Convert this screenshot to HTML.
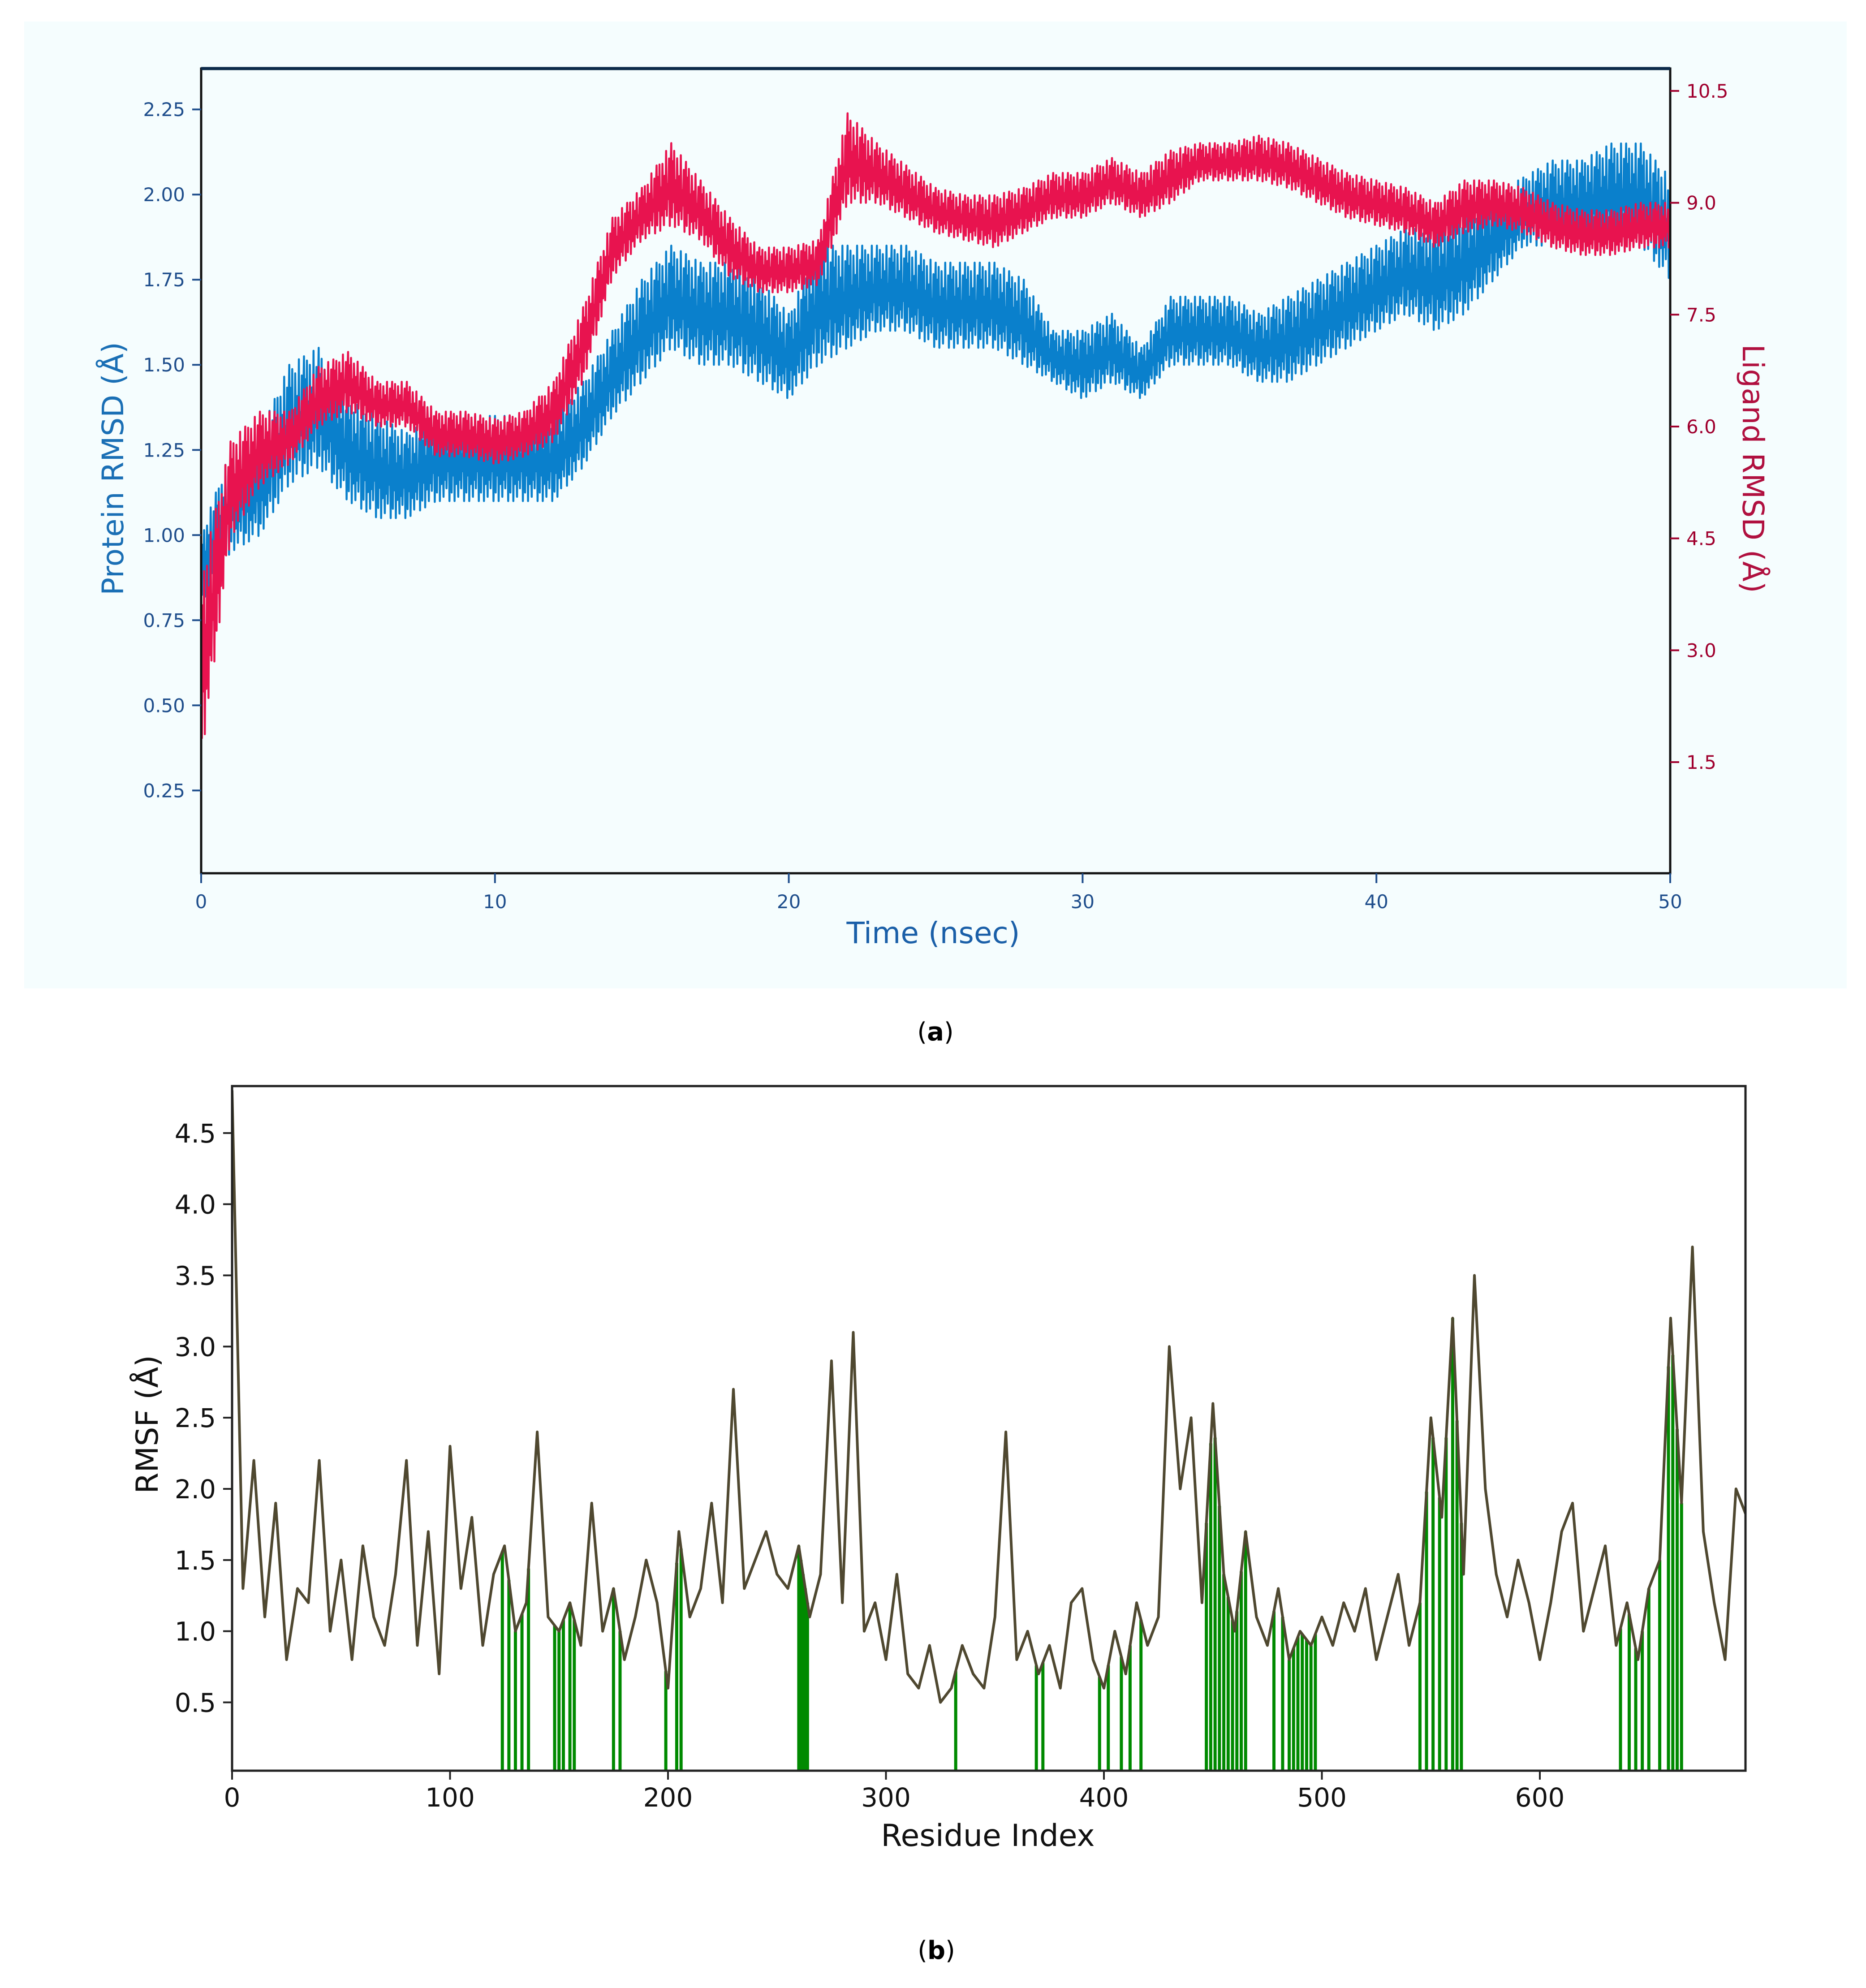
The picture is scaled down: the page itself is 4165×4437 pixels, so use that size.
<!DOCTYPE html>
<html><head><meta charset="utf-8">
<style>
html,body{margin:0;padding:0;background:#fff;}
svg{display:block;}
text{font-family:"DejaVu Sans","Liberation Sans",sans-serif;}
</style></head>
<body>
<svg id="fig" xmlns="http://www.w3.org/2000/svg" width="4165" height="4437" viewBox="0 0 4165 4437">
  <rect x="54" y="48" width="4068" height="2158" fill="#f5fdfe"/>
  <g id="pa"></g>
  <g id="pb"></g>
  <text x="2088" y="2322" font-size="56" text-anchor="middle" font-family="Liberation Serif, serif">(<tspan font-weight="bold">a</tspan>)</text>
  <text x="2090" y="4372" font-size="56" text-anchor="middle" font-family="Liberation Serif, serif">(<tspan font-weight="bold">b</tspan>)</text>
</svg>
<script>
// ---------- Panel (a) data ----------
const timeNs = [0,1,2,3,4,5,6,7,8,9,10,11,12,13,14,15,16,17,18,19,20,21,22,23,24,25,26,27,28,29,30,31,32,33,34,35,36,37,38,39,40,41,42,43,44,45,46,47,48,49,50];
const proteinLo = [0.8,0.95,1.0,1.15,1.2,1.1,1.05,1.05,1.1,1.1,1.1,1.1,1.1,1.2,1.35,1.45,1.55,1.5,1.5,1.45,1.4,1.5,1.55,1.6,1.6,1.55,1.55,1.55,1.5,1.45,1.4,1.45,1.4,1.5,1.5,1.5,1.45,1.45,1.5,1.55,1.6,1.65,1.6,1.65,1.75,1.85,1.85,1.85,1.85,1.85,1.75];
const proteinHi = [1.0,1.25,1.3,1.5,1.55,1.4,1.35,1.3,1.35,1.35,1.35,1.35,1.35,1.45,1.6,1.75,1.85,1.8,1.8,1.75,1.65,1.85,1.85,1.85,1.85,1.8,1.8,1.8,1.75,1.6,1.6,1.65,1.55,1.7,1.7,1.7,1.65,1.7,1.75,1.8,1.85,1.9,1.9,1.95,2.0,2.05,2.1,2.1,2.15,2.15,2.05];
const ligandLo = [1.5,4.5,5.2,5.5,6.0,6.2,6.0,6.0,5.6,5.6,5.5,5.6,5.8,6.6,8.0,8.5,8.7,8.5,8.0,7.8,7.8,7.9,9.0,9.0,8.8,8.6,8.5,8.4,8.6,8.8,8.8,9.0,8.8,9.0,9.3,9.3,9.3,9.2,9.0,8.8,8.7,8.6,8.4,8.6,8.7,8.6,8.4,8.3,8.3,8.4,8.4];
const ligandHi = [4.0,5.8,6.2,6.2,6.8,7.0,6.6,6.6,6.2,6.2,6.1,6.2,6.6,7.6,8.8,9.2,9.8,9.3,8.8,8.4,8.4,8.5,10.2,9.8,9.5,9.2,9.1,9.1,9.2,9.4,9.4,9.6,9.4,9.7,9.8,9.8,9.9,9.8,9.6,9.4,9.3,9.2,9.0,9.3,9.3,9.2,9.0,8.9,8.9,9.0,9.0];
const xTicksA = [0,10,20,30,40,50];
const leftTicks = ["0.25","0.50","0.75","1.00","1.25","1.50","1.75","2.00","2.25"];
const rightTicks = ["1.5","3.0","4.5","6.0","7.5","9.0","10.5"];

// ---------- Panel (b) data ----------
const rmsfStep = 5;
const rmsfValues = [4.8,1.3,2.2,1.1,1.9,0.8,1.3,1.2,2.2,1.0,
 1.5,0.8,1.6,1.1,0.9,1.4,2.2,0.9,1.7,0.7,
 2.3,1.3,1.8,0.9,1.4,1.6,1.0,1.2,2.4,1.1,
 1.0,1.2,0.9,1.9,1.0,1.3,0.8,1.1,1.5,1.2,
 0.6,1.7,1.1,1.3,1.9,1.2,2.7,1.3,1.5,1.7,
 1.4,1.3,1.6,1.1,1.4,2.9,1.2,3.1,1.0,1.2,
 0.8,1.4,0.7,0.6,0.9,0.5,0.6,0.9,0.7,0.6,
 1.1,2.4,0.8,1.0,0.7,0.9,0.6,1.2,1.3,0.8,
 0.6,1.0,0.7,1.2,0.9,1.1,3.0,2.0,2.5,1.2,
 2.6,1.4,1.0,1.7,1.1,0.9,1.3,0.8,1.0,0.9,
 1.1,0.9,1.2,1.0,1.3,0.8,1.1,1.4,0.9,1.2,
 2.5,1.8,3.2,1.4,3.5,2.0,1.4,1.1,1.5,1.2,
 0.8,1.2,1.7,1.9,1.0,1.3,1.6,0.9,1.2,0.8,
 1.3,1.5,3.2,1.9,3.7,1.7,1.2,0.8,2.0,1.8];
const contactResidues = [124,127,130,133,136,148,150,152,155,157,175,178,199,204,206,260,261,262,263,264,332,369,372,398,402,408,412,417,447,449,451,453,455,457,459,461,463,465,478,482,485,487,489,491,493,495,497,545,548,551,554,557,560,562,564,637,641,644,647,650,655,659,661,663,665];
const xTicksB = [0,100,200,300,400,500,600];
const yTicksB = ["0.5","1.0","1.5","2.0","2.5","3.0","3.5","4.0","4.5"];

const NS = "http://www.w3.org/2000/svg";
function mk(tag, attrs, parent){
  const e = document.createElementNS(NS, tag);
  for (const k in attrs) e.setAttribute(k, attrs[k]);
  parent.appendChild(e);
  return e;
}

// ---------- Panel (a) ----------
(function(){
  const g = document.getElementById('pa');
  const L=449, R=3728, T=153, B=1949;
  const xA = t => L + (t-0)/(50-0)*(R-L);
  const yL = v => B - (v-0.007)/(2.37-0.007)*(B-T);
  const yR = v => B - (v-0.01)/(10.8-0.01)*(B-T);
  const pattern = [1,0.1,0.8,0.3,0.95,0,0.6,0.2,0.9,0.45,0.05,0.7,0.25,1,0.15,0.55,0.35,0.85,0,0.65];

  function zig(lo, hi, ys, color, name){
    let d = '';
    const sub = 40;
    let k = 0;
    for (let i=0;i<timeNs.length-1;i++){
      for (let s=0;s<sub;s++){
        const f = s/sub;
        const t = timeNs[i] + f*(timeNs[i+1]-timeNs[i]);
        const l = lo[i] + f*(lo[i+1]-lo[i]);
        const h = hi[i] + f*(hi[i+1]-hi[i]);
        const v1 = l + pattern[k % pattern.length]*(h-l);
        k++;
        d += (d?'L':'M') + xA(t).toFixed(1) + ',' + ys(v1).toFixed(1);
      }
    }
    const n = timeNs.length-1;
    d += 'L' + xA(timeNs[n]).toFixed(1) + ',' + ys((lo[n]+hi[n])/2).toFixed(1);
    const p = mk('path', {d:d, fill:'none', stroke:color, 'stroke-width':4.5, 'stroke-linejoin':'round'}, g);
    
    
  }
  zig(proteinLo, proteinHi, yL, '#0a80cc', 'protein-rmsd-line');
  zig(ligandLo, ligandHi, yR, '#e8134f', 'ligand-rmsd-line');

  const frame = mk('rect', {x:L, y:T, width:R-L, height:B-T, fill:'none', stroke:'#111', 'stroke-width':5}, g);
  
  
  mk('line', {x1:L, y1:T, x2:R, y2:T, stroke:'#0b2a4a', 'stroke-width':7}, g);

  xTicksA.forEach(v=>{
    const x = xA(v);
    mk('line', {x1:x, y1:B, x2:x, y2:B+22, stroke:'#1f4e8c', 'stroke-width':4}, g);
    const t = mk('text', {x:x, y:B+78, 'font-size':42, fill:'#1f4e8c', 'text-anchor':'middle'}, g);
    t.textContent = v;
    
    
  });
  leftTicks.forEach(s=>{
    const y = yL(parseFloat(s));
    mk('line', {x1:L-20, y1:y, x2:L, y2:y, stroke:'#1f4e8c', 'stroke-width':4}, g);
    const t = mk('text', {x:L-36, y:y+15, 'font-size':42, fill:'#1f4e8c', 'text-anchor':'end'}, g);
    t.textContent = s;
    
    
  });
  rightTicks.forEach(s=>{
    const y = yR(parseFloat(s));
    mk('line', {x1:R, y1:y, x2:R+20, y2:y, stroke:'#a0002e', 'stroke-width':4}, g);
    const t = mk('text', {x:R+36, y:y+15, 'font-size':42, fill:'#a0002e', 'text-anchor':'start'}, g);
    t.textContent = s;
    
    
  });
  const xt = mk('text', {x:2083, y:2105, 'font-size':66, fill:'#1a5fa8', 'text-anchor':'middle'}, g);
  xt.textContent = 'Time (nsec)';
  
  
  const yt = mk('text', {x:0, y:0, 'font-size':66, fill:'#1a6fb5', 'text-anchor':'middle', transform:'translate(275,1046) rotate(-90)'}, g);
  yt.textContent = 'Protein RMSD (Å)';
  
  
  const yt2 = mk('text', {x:0, y:0, 'font-size':66, fill:'#b0103f', 'text-anchor':'middle', transform:'translate(3890,1046) rotate(90)'}, g);
  yt2.textContent = 'Ligand RMSD (Å)';
  
  
})();

// ---------- Panel (b) ----------
(function(){
  const g = document.getElementById('pb');
  const L=518, R=3896, T=2424, B=3952;
  const xMax = (R-L)/4.865;
  const xB = r => L + r/xMax*(R-L);
  const yB = v => B - (v-0.02)/(4.83-0.02)*(B-T);
  const rmsfAt = r => {
    const i = Math.floor(r/rmsfStep), f = (r - i*rmsfStep)/rmsfStep;
    const a = rmsfValues[Math.min(i, rmsfValues.length-1)], b = rmsfValues[Math.min(i+1, rmsfValues.length-1)];
    return a + f*(b-a);
  };
  const clip = mk('clipPath', {id:'clipb'}, g);
  mk('rect', {x:L, y:T, width:R-L, height:B-T}, clip);

  contactResidues.forEach(r=>{
    const l = mk('line', {x1:xB(r), y1:B, x2:xB(r), y2:yB(rmsfAt(r)), stroke:'#008a00', 'stroke-width':7}, g);
    
    
  });

  let d='';
  rmsfValues.forEach((v,i)=>{ d += (i?'L':'M') + xB(i*rmsfStep).toFixed(1) + ',' + yB(v).toFixed(1); });
  const p = mk('path', {d:d, fill:'none', stroke:'#4f4830', 'stroke-width':6, 'stroke-linejoin':'round', 'clip-path':'url(#clipb)'}, g);
  
  

  const frame = mk('rect', {x:L, y:T, width:R-L, height:B-T, fill:'none', stroke:'#222', 'stroke-width':5}, g);
  
  

  xTicksB.forEach(v=>{
    const x = xB(v);
    mk('line', {x1:x, y1:B, x2:x, y2:B+20, stroke:'#222', 'stroke-width':4}, g);
    const t = mk('text', {x:x, y:B+80, 'font-size':58, fill:'#111', 'text-anchor':'middle'}, g);
    t.textContent = v;
    
    
  });
  yTicksB.forEach(s=>{
    const y = yB(parseFloat(s));
    mk('line', {x1:L-20, y1:y, x2:L, y2:y, stroke:'#222', 'stroke-width':4}, g);
    const t = mk('text', {x:L-36, y:y+21, 'font-size':58, fill:'#111', 'text-anchor':'end'}, g);
    t.textContent = s;
    
    
  });
  const xt = mk('text', {x:2205, y:4120, 'font-size':68, fill:'#111', 'text-anchor':'middle'}, g);
  xt.textContent = 'Residue Index';
  
  
  const yt = mk('text', {x:0, y:0, 'font-size':68, fill:'#111', 'text-anchor':'middle', transform:'translate(352,3179) rotate(-90)'}, g);
  yt.textContent = 'RMSF (Å)';
  
  
})();
</script>
</body></html>
